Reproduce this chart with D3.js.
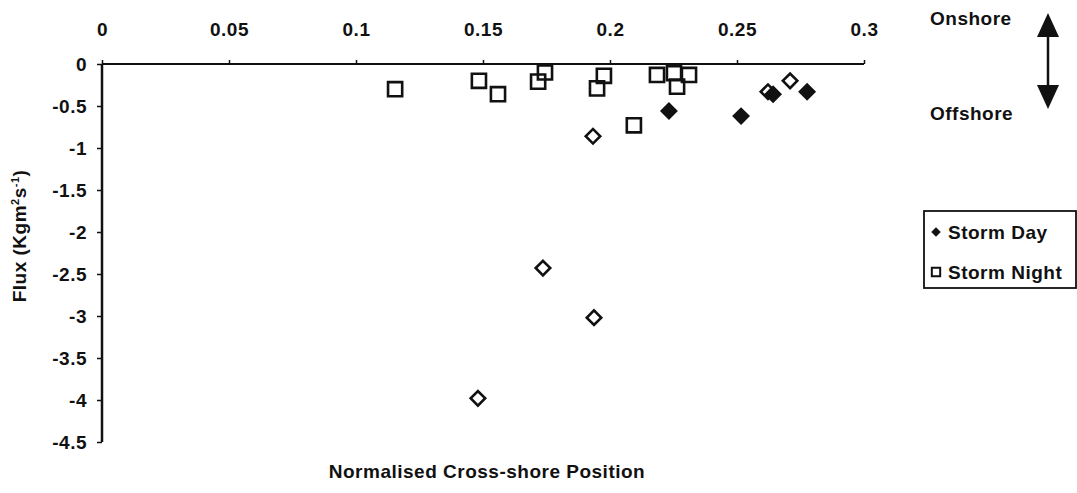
<!DOCTYPE html>
<html><head><meta charset="utf-8">
<script src="https://cdn.jsdelivr.net/npm/d3@7"></script>
<style>body{margin:0;background:#fff;} text{font-family:"Liberation Sans",Arial,sans-serif;font-weight:bold;fill:#111;letter-spacing:0.5px;}</style>
</head><body><svg id="c" width="1077" height="493"></svg>
<script>
const xTicks = [0, 0.05, 0.1, 0.15, 0.2, 0.25, 0.3];
const yTicks = [0, -0.5, -1, -1.5, -2, -2.5, -3, -3.5, -4, -4.5];
const stormDayX = [0.2232, 0.2516, 0.2642, 0.2776];
const stormDayY = [-0.56, -0.62, -0.36, -0.33];
const stormNightX = [0.1154, 0.1484, 0.1559, 0.1717, 0.1744, 0.1949, 0.1976, 0.2094, 0.2185, 0.2252, 0.2264, 0.2311];
const stormNightY = [-0.30, -0.20, -0.36, -0.21, -0.10, -0.29, -0.14, -0.73, -0.13, -0.11, -0.27, -0.13];
const otherX = [0.1933, 0.1736, 0.1937, 0.1480, 0.2622, 0.2709];
const otherY = [-0.86, -2.43, -3.02, -3.98, -0.33, -0.20];
const legendNames = ["Storm Day", "Storm Night"];

const FS = 19;
const svg = d3.select("#c");
const x = d3.scaleLinear().domain([0, 0.3]).range([102, 864]);
const y = d3.scaleLinear().domain([0, -4.5]).range([64, 442]);

// x axis (top, at y=0)
const xa = svg.append("g").attr("transform", `translate(0,${y(0)})`)
  .call(d3.axisTop(x).tickValues(xTicks).tickSize(4).tickPadding(24).tickFormat(d3.format("")));
xa.select(".domain").attr("stroke", "#111").attr("stroke-width", 2).attr("d", `M${x(0)},0H${x(0.3)}`);
xa.selectAll("line").attr("stroke", "#111").attr("stroke-width", 1.5);
xa.selectAll("text").attr("font-size", FS).attr("fill", "#111");

// y axis
const ya = svg.append("g").attr("transform", `translate(${x(0)},0)`)
  .call(d3.axisLeft(y).tickValues(yTicks).tickSize(5).tickPadding(10).tickFormat(d3.format("")));
ya.select(".domain").attr("stroke", "#111").attr("stroke-width", 2.5).attr("d", `M0,${y(0)}V${y(-4.5)}`);
ya.selectAll("line").attr("stroke", "#111").attr("stroke-width", 1.5);
ya.selectAll("text").attr("font-size", FS).attr("fill", "#111").attr("dy", "0.35em");
ya.selectAll("text").text(d => String(d));

// squares (Storm Night)
svg.append("g").selectAll("path").data(d3.range(stormNightX.length)).join("path")
  .attr("d", d3.symbol().type(d3.symbolSquare).size(200))
  .attr("transform", i => `translate(${x(stormNightX[i])},${y(stormNightY[i])})`)
  .attr("fill", "none").attr("stroke", "#111").attr("stroke-width", 2.6);
// hollow diamonds
svg.append("g").selectAll("path").data(d3.range(otherX.length)).join("path")
  .attr("d", d3.symbol().type(d3.symbolSquare).size(105))
  .attr("transform", i => `translate(${x(otherX[i])},${y(otherY[i])}) rotate(45)`)
  .attr("fill", "none").attr("stroke", "#111").attr("stroke-width", 2.6);
// filled diamonds (Storm Day)
svg.append("g").selectAll("path").data(d3.range(stormDayX.length)).join("path")
  .attr("d", d3.symbol().type(d3.symbolSquare).size(160))
  .attr("transform", i => `translate(${x(stormDayX[i])},${y(stormDayY[i])}) rotate(45)`)
  .attr("fill", "#111");

// axis labels
svg.append("text").attr("x", 487).attr("y", 478).attr("text-anchor", "middle").attr("font-size", FS)
  .text("Normalised Cross-shore Position");
const yl = svg.append("text").attr("transform", "translate(26,236) rotate(-90)").attr("text-anchor", "middle").attr("font-size", FS);
yl.append("tspan").text("Flux (Kgm");
yl.append("tspan").attr("font-size", 11).attr("dy", -7).text("2");
yl.append("tspan").attr("font-size", FS).attr("dy", 7).text("s");
yl.append("tspan").attr("font-size", 11).attr("dy", -7).text("-1");
yl.append("tspan").attr("font-size", FS).attr("dy", 7).text(")");

// legend
const lg = svg.append("g");
lg.append("rect").attr("x", 924).attr("y", 211).attr("width", 152).attr("height", 77)
  .attr("fill", "#fff").attr("stroke", "#111").attr("stroke-width", 1.8);
lg.append("path").attr("d", d3.symbol().type(d3.symbolSquare).size(45)).attr("transform", "translate(936,232) rotate(45)").attr("fill", "#111");
lg.append("path").attr("d", d3.symbol().type(d3.symbolSquare).size(70)).attr("transform", "translate(936,272)")
  .attr("fill", "none").attr("stroke", "#111").attr("stroke-width", 2);
lg.selectAll("text.l").data(legendNames).join("text").attr("class", "l")
  .attr("x", 948).attr("y", (d, i) => 239 + i * 40).attr("font-size", FS).text(d => d);

// onshore / offshore annotation
svg.append("text").attr("x", 930).attr("y", 25).attr("font-size", FS).text("Onshore");
svg.append("text").attr("x", 930).attr("y", 120).attr("font-size", FS).text("Offshore");
svg.append("line").attr("x1", 1048).attr("x2", 1048).attr("y1", 30).attr("y2", 92).attr("stroke", "#111").attr("stroke-width", 2.5);
svg.append("path").attr("d", "M1048,13L1059,37L1037,37Z").attr("fill", "#111");
svg.append("path").attr("d", "M1048,109L1059,85L1037,85Z").attr("fill", "#111");
</script></body></html>
